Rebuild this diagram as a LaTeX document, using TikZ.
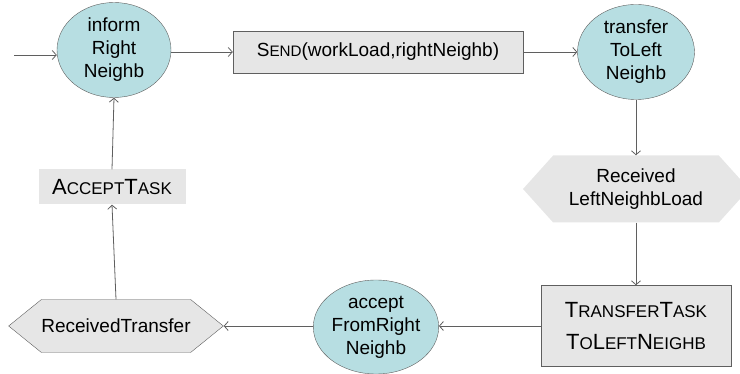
\documentclass[tikz,border=0pt]{standalone}
\usepackage{fontspec}
\setmainfont{Liberation Sans}
\usetikzlibrary{shapes.geometric,shapes.symbols,arrows.meta}
\definecolor{ellfill}{RGB}{183,222,226}
\definecolor{boxfill}{RGB}{230,230,230}
\definecolor{edge}{RGB}{95,95,95}
\newcommand\smc[1]{{\fontsize{15.2}{23}\selectfont #1}}
\newcommand\bigsmc[1]{{\fontsize{17}{32}\selectfont #1}}
\tikzset{
  txt/.style={font=\fontsize{19}{23}\selectfont, align=center, text=black},
  bigtxt/.style={font=\fontsize{22}{32}\selectfont, align=center, text=black},
  state/.style={txt, ellipse, draw=edge, fill=ellfill, inner sep=0pt},
  actbox/.style={txt, rectangle, draw=edge, fill=boxfill, inner sep=0pt},
  plainbox/.style={txt, rectangle, fill=boxfill, inner sep=0pt},
  hexa/.style={txt, signal, signal to=west and east, inner sep=0pt},
  conn/.style={draw=edge, line width=0.8pt, -{Straight Barb[length=4pt,width=9pt]}}
}
\begin{document}
\begin{tikzpicture}[x=1pt,y=-1pt]
\useasboundingbox (0,0) rectangle (740,374);
\node[state, minimum width=114, minimum height=95] (inform) at (114,50) {inform\\Right\\Neighb};
\node[actbox, minimum width=290, minimum height=42] (send) at (378,52) {S\smc{END}(workLoad,rightNeighb)};
\node[state, minimum width=117, minimum height=95] (transfer) at (636,52) {transfer\\ToLeft\\Neighb};
\node[hexa, fill=boxfill, minimum width=226, minimum height=67, signal pointer angle=96] (recvleft) at (636,189) {Received\\LeftNeighbLoad};
\node[actbox, bigtxt, minimum width=190, minimum height=81] (ttask) at (636,326) {T\bigsmc{RANSFER}T\bigsmc{ASK}\\T\bigsmc{O}L\bigsmc{EFT}N\bigsmc{EIGHB}};
\node[state, minimum width=116, minimum height=94] (accept) at (376,327) {accept\\FromRight\\Neighb};
\node[hexa, draw=edge, fill=boxfill, minimum width=213, minimum height=53, signal pointer angle=78] (recvtr) at (116,326) {ReceivedTransfer};
\node[plainbox, bigtxt, minimum width=147, minimum height=35] (accepttask) at (112,187) {A\bigsmc{CCEPT}T\bigsmc{ASK}};
\coordinate (start) at (14,55);
\draw[conn] (start) -- (inform.west |- start);
\draw[conn] (inform.east |- send.west) -- (send.west);
\draw[conn] (send.east) -- (transfer.west |- send.east);
\draw[conn] (transfer.south) -- (recvleft.north);
\draw[conn] (recvleft.south) -- (ttask.north);
\draw[conn] (ttask.west) -- (accept.east |- ttask.west);
\draw[conn] (accept.west |- recvtr.east) -- (recvtr.east);
\draw[conn] (recvtr.north) -- (accepttask.south);
\draw[conn] (accepttask.north) -- (inform.south);
\end{tikzpicture}
\end{document}
